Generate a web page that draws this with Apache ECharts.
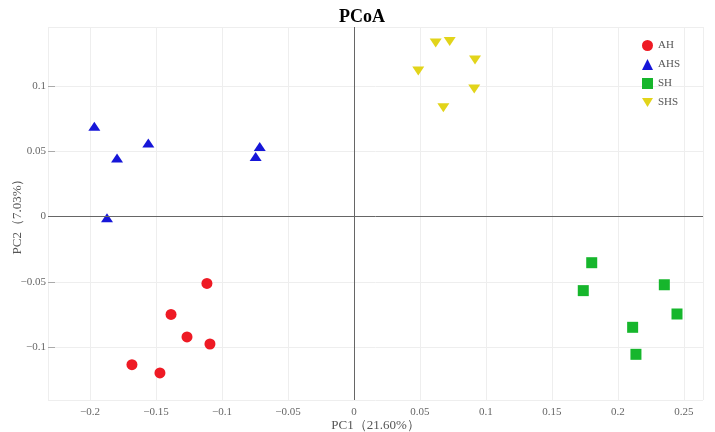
<!DOCTYPE html>
<html>
<head>
<meta charset="utf-8">
<script src="https://cdn.jsdelivr.net/npm/echarts@6/dist/echarts.min.js"></script>
<style>html,body{margin:0;padding:0;background:#fff}#c{width:715px;height:432px}</style>
</head>
<body>
<div id="c"></div>
<script>
const groups = ['AH', 'AHS', 'SH', 'SHS'];
const AH_x = [-0.1114, -0.1386, -0.1265, -0.1091, -0.1682, -0.1470];
const AH_y = [-0.0513, -0.0750, -0.0923, -0.0977, -0.1135, -0.1199];
const AHS_x = [-0.1967, -0.1795, -0.1558, -0.1871, -0.0745, -0.0714];
const AHS_y = [0.0691, 0.0449, 0.0564, -0.0010, 0.0459, 0.0536];
const SH_x = [0.1801, 0.1737, 0.2351, 0.2447, 0.2111, 0.2136];
const SH_y = [-0.0354, -0.0568, -0.0523, -0.0747, -0.0849, -0.1056];
const SHS_x = [0.0619, 0.0725, 0.0917, 0.0487, 0.0911, 0.0677];
const SHS_y = [0.1329, 0.1341, 0.1199, 0.1115, 0.0977, 0.0834];
const xTitle = 'PC1（21.60%）';
const yTitle = 'PC2（7.03%）';
const chartTitle = 'PCoA';

const pairs = (xs, ys) => xs.map((x, i) => [x, ys[i]]);
const seriesData = {
  AH: pairs(AH_x, AH_y), AHS: pairs(AHS_x, AHS_y),
  SH: pairs(SH_x, SH_y), SHS: pairs(SHS_x, SHS_y)
};
const styles = {
  AH: { symbol: 'circle', size: 11, color: '#ee1a24' },
  AHS: { symbol: 'triangle', size: [12, 9], color: '#1616d8' },
  SH: { symbol: 'rect', size: 11, color: '#16b62c' },
  SHS: { symbol: 'path://M0,0L10,0L5,8Z', size: [12, 9], color: '#e2d41a' }
};
const fmt = v => {
  if (Math.abs(v) < 1e-9) return '0';
  return String(+v.toFixed(3)).replace('-', '\u2212');
};
const FONT = "'Liberation Serif', 'DejaVu Serif', serif";

const chart = echarts.init(document.getElementById('c'));
const series = groups.map((g, i) => {
  const s = {
    name: g, type: 'scatter', data: seriesData[g],
    symbol: styles[g].symbol, symbolSize: styles[g].size,
    itemStyle: { color: styles[g].color, opacity: 1 },
    emphasis: { disabled: true }
  };
  if (i === 0) {
    s.markLine = {
      silent: true, symbol: 'none', animation: false,
      label: { show: false },
      lineStyle: { color: '#666', width: 1, type: 'solid' },
      data: [{ xAxis: 0 }, { yAxis: 0 }]
    };
  }
  return s;
});
chart.setOption({
  animation: false,
  title: {
    text: chartTitle, left: 357, top: 3, textAlign: 'center',
    textStyle: { fontFamily: FONT, fontWeight: 'bold', fontSize: 18, color: '#000' }
  },
  legend: {
    orient: 'vertical', left: 637, top: 35,
    itemWidth: 11, itemHeight: 11, itemGap: 8,
    data: groups,
    textStyle: { fontFamily: FONT, fontSize: 11, color: '#555', lineHeight: 11 }
  },
  grid: { left: 48, right: 12, top: 27, bottom: 32, containLabel: false, outerBoundsMode: 'none' },
  xAxis: {
    type: 'value', min: -0.2318, max: 0.2644, splitNumber: 10,
    minInterval: 0.05, maxInterval: 0.05,
    axisLine: { show: false, onZero: false }, axisTick: { show: false },
    splitLine: { show: true, lineStyle: { color: '#eeeeee', width: 1 } },
    axisLabel: { formatter: fmt, showMinLabel: false, showMaxLabel: false, margin: 7,
      fontFamily: FONT, fontSize: 11, color: '#666' },
    name: xTitle, nameLocation: 'middle', nameGap: 19, nameMoveOverlap: false,
    nameTextStyle: { fontFamily: FONT, fontSize: 13, color: '#555' }
  },
  yAxis: {
    type: 'value', min: -0.1406, max: 0.1452, splitNumber: 6,
    minInterval: 0.05, maxInterval: 0.05,
    axisLine: { show: false, onZero: false },
    axisTick: { show: true, inside: true, length: 7, lineStyle: { color: '#aaa' } },
    splitLine: { show: true, lineStyle: { color: '#eeeeee', width: 1 } },
    axisLabel: { formatter: fmt, showMinLabel: false, showMaxLabel: false, margin: 2,
      fontFamily: FONT, fontSize: 11, color: '#666' },
    name: yTitle, nameLocation: 'middle', nameGap: 24, nameRotate: 90, nameMoveOverlap: false,
    nameTextStyle: { fontFamily: FONT, fontSize: 13, color: '#555' }
  },
  series: series
});
</script>
</body>
</html>
